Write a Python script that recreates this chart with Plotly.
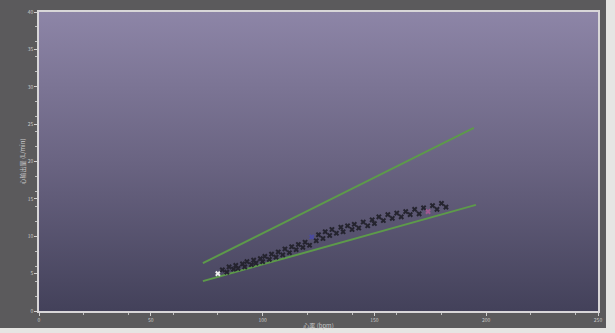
import plotly.graph_objects as go

# ---- data ----
x_ticks = [0, 50, 100, 150, 200, 250]
y_ticks = [0, 5, 10, 15, 20, 25, 30, 35, 40]

pts_x = [80, 82, 84, 85, 87, 88, 89, 91, 92, 93, 95, 96, 97, 99, 100, 101, 103, 104,
         106, 107, 109, 110, 112, 113, 115, 116, 118, 119, 121, 122, 124, 125, 127, 128,
         130, 131, 133, 135, 136, 138, 140, 141, 143, 145, 147, 149, 150, 152, 154, 156,
         158, 160, 162, 164, 166, 168, 170, 172, 174, 176, 178, 180, 182]
pts_y = [5.0, 5.5, 5.2, 5.9, 5.6, 6.1, 5.7, 6.3, 5.9, 6.6, 6.2, 6.8, 6.4, 7.0, 6.6, 7.3, 6.9, 7.6,
         7.2, 7.9, 7.5, 8.3, 7.8, 8.6, 8.2, 8.9, 8.5, 9.2, 8.8, 9.9, 9.4, 10.2, 9.7, 10.6,
         10.1, 10.9, 10.4, 11.2, 10.6, 11.4, 10.9, 11.6, 11.1, 11.9, 11.4, 12.2, 11.7, 12.6, 12.1, 12.9,
         12.4, 13.1, 12.6, 13.3, 12.9, 13.6, 13.0, 13.8, 13.3, 14.1, 13.6, 14.4, 13.9]

upper_x = [73.3, 194.5]
upper_y = [6.4, 24.5]
lower_x = [73.3, 195.4]
lower_y = [4.0, 14.2]

x_range = [0, 250]
y_range = [0, 40]

x_title = "心率 (bpm)"
y_title = "心输出量 (L/min)"

fig = go.Figure()

# gradient background of the plotting area
fig.add_trace(go.Scatter(
    x=[x_range[0], x_range[1], x_range[1], x_range[0], x_range[0]],
    y=[y_range[0], y_range[0], y_range[1], y_range[1], y_range[0]],
    mode="none", fill="toself",
    fillgradient=dict(type="vertical",
                      colorscale=[[0, "#43415a"], [0.5, "#6a6482"], [1, "#8d85a7"]]),
    hoverinfo="skip", showlegend=False))

fig.add_trace(go.Scatter(x=upper_x, y=upper_y, mode="lines",
                         line=dict(color="#5d9a4a", width=2), showlegend=False))
fig.add_trace(go.Scatter(x=lower_x, y=lower_y, mode="lines",
                         line=dict(color="#5d9a4a", width=2), showlegend=False))

colors = ["#25242f"] * len(pts_x)
colors[0] = "#f0f0f0"
colors[29] = "#4a4aa0"
colors[-5] = "#a05a90"
fig.add_trace(go.Scatter(x=pts_x, y=pts_y, mode="markers",
                         marker=dict(symbol="x", size=5, color=colors,
                                     line=dict(width=0)),
                         showlegend=False))

axis_common = dict(
    showgrid=False, zeroline=False, automargin=False,
    showline=True, linecolor="#d8d6d8", linewidth=1.5, mirror=True,
    ticks="outside", ticklen=3, tickcolor="#d0d0d0",
    tickfont=dict(size=5, color="#c8c8c8", family="Noto Sans CJK SC"),
    minor=dict(ticks="outside", ticklen=2, tickcolor="#c0c0c0"),
)

fig.update_xaxes(range=x_range, tickvals=x_ticks, ticktext=[str(v) for v in x_ticks],
                 minor_nticks=5,
                 title=dict(text=x_title, font=dict(size=6, color="#c8c8c8",
                                                    family="Noto Sans CJK SC"), standoff=2),
                 **axis_common)
fig.update_yaxes(range=y_range, tickvals=y_ticks, ticktext=[str(v) for v in y_ticks],
                 minor_nticks=5,
                 title=dict(text=y_title, font=dict(size=6, color="#c8c8c8",
                                                    family="Noto Sans CJK SC"), standoff=2),
                 **axis_common)

fig.update_layout(
    width=615, height=333,
    margin=dict(l=39, r=17, t=12, b=22),
    paper_bgcolor="#e6e5e3",
    plot_bgcolor="#6c6683",
    shapes=[dict(type="rect", xref="paper", yref="paper",
                 x0=-0.0698, x1=1.0143, y0=-0.0569, y1=1.05,
                 fillcolor="#5b5a5c", line=dict(width=0), layer="below")],
)

fig.write_html("out.html", config={"displayModeBar": False},
               post_script="document.body.style.margin='0';document.body.style.overflow='hidden';")
